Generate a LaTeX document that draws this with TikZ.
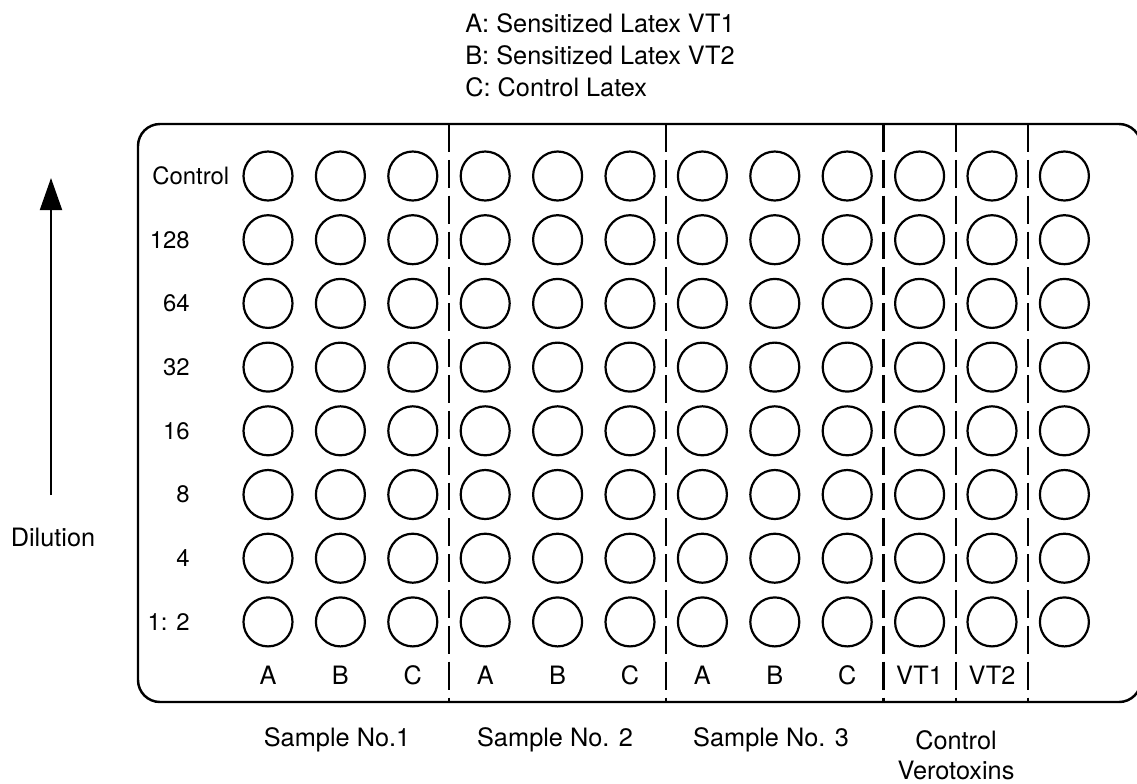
\documentclass[tikz,border=0pt]{standalone}
\usepackage{fontspec}
\setmainfont{TeX Gyre Heros}
\usetikzlibrary{arrows.meta,positioning}

\begin{document}
\begin{tikzpicture}[
  every node/.style={font=\fontsize{14.4}{17}\selectfont, inner sep=0pt},
  well/.style={circle, draw, line width=1.25pt, minimum size=9.8mm, inner sep=0pt},
  rowlbl/.style={font=\fontsize{13.6}{16}\selectfont},
  divider/.style={line width=1.3pt, dash pattern=on 15.9pt off 4.5pt},
  plate/.style={line width=1.4pt, rounded corners=4.4mm},
  dilarr/.style={-{Triangle[length=6.4mm,width=4.4mm]}, line width=1.1pt},
]
\useasboundingbox (0,0) rectangle (22.74,-15.66);

% === Legend ===
\node[anchor=west] (keyA) at (9.3,-0.46) {A: Sensitized Latex VT1};
\node[anchor=west] (keyB) at (9.3,-1.10) {B: Sensitized Latex VT2};
\node[anchor=west] (keyC) at (9.3,-1.74) {C: Control Latex};

% === Plate outline and column dividers ===
\begin{scope}
  \clip (0,0) rectangle (22.74,-15.66);
  \draw[plate] (2.76,-2.48) rectangle (22.82,-14.04);
\end{scope}
\foreach \k in {2.5,5.5,8.5,9.5,10.5}
  \draw[divider] ({5.36+1.448*\k},-2.48) -- ({5.36+1.448*\k},-14.04);

% === Wells (12 columns x 8 rows) ===
\foreach \c in {0,...,11}{
  \foreach \r in {0,...,7}{
    \node[well] (w-\c-\r) at ({5.36+1.448*\c},{-3.52-1.274*\r}) {};
  }
}

% Row labels
\node[rowlbl, anchor=west] (row0) at (3.04,-3.52) {Control};
\foreach \r/\t in {1/128,2/64,3/32,4/16,5/8,6/4,7/{1: 2}}
  \node[rowlbl, anchor=east] (row\r) at (3.8,{-3.52-1.274*\r}) {\t};

% Column labels
\foreach \c/\t in {0/A,1/B,2/C,3/A,4/B,5/C,6/A,7/B,8/C,9/VT1,10/VT2}
  \node (col\c) at ({5.36+1.448*\c},-13.5) {\t};

% === Dilution arrow ===
\node (dil) at (1.06,-10.74) {Dilution};
\coordinate (arrbase) at (1.02,-9.9);
\coordinate (arrtip) at (1.02,-3.56);
\draw[dilarr] (arrbase) -- (arrtip);

% === Group labels ===
\node (samp1) at (6.74,-14.8) {Sample No.1};
\node (samp2) at (11.1,-14.8) {Sample No. 2};
\node (samp3) at (15.42,-14.8) {Sample No. 3};
\node[align=center] (vero) at (19.12,-15.1) {Control\\Verotoxins};

\end{tikzpicture}
\end{document}
